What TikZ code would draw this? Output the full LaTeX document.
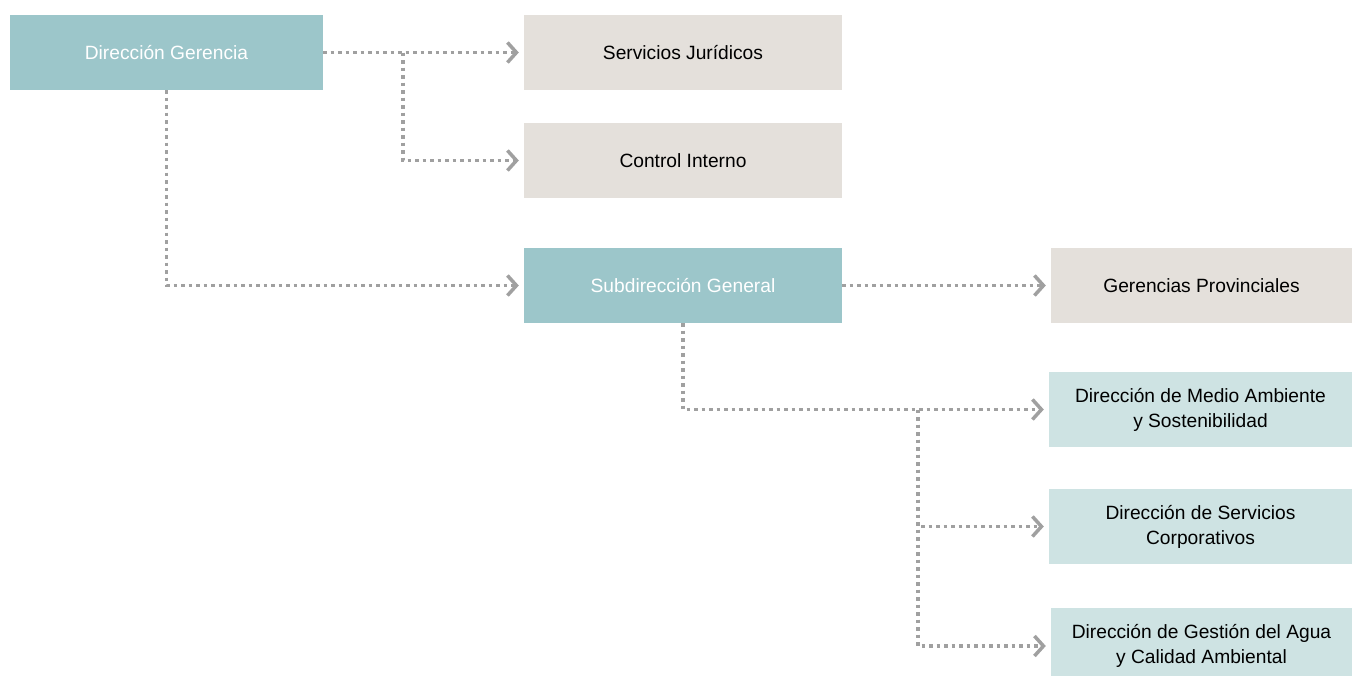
\documentclass[tikz,border=0pt]{standalone}
\usepackage{fontspec}
\setmainfont{Liberation Sans}
\usetikzlibrary{arrows.meta}
\definecolor{teal1}{HTML}{9CC6CA}
\definecolor{greybox}{HTML}{E4E0DB}
\definecolor{lteal}{HTML}{CEE3E3}
\definecolor{conncol}{HTML}{A0A0A0}
\tikzset{
  box/.style={draw=none, inner sep=0pt, align=center, font=\fontsize{19.2}{25}\selectfont},
  tealbox/.style={box, fill=teal1, text=white},
  greyb/.style={box, fill=greybox, text=black},
  ltealbox/.style={box, fill=lteal, text=black},
  conn/.style={draw=conncol, line width=3.5pt, dash pattern=on 3.5pt off 4pt,
    -{Straight Barb[length=9pt,width=20pt,line width=3.5pt]}, shorten >=5pt},
}
\begin{document}
\begin{tikzpicture}[x=1pt,y=-1pt]
\clip (0,0) rectangle (1352,675);
\fill[white] (0,0) rectangle (1352,675);
\node[tealbox, minimum width=313pt, minimum height=75pt] (dg) at (166.5,52.5) {Dirección Gerencia};
\node[greyb, minimum width=318pt, minimum height=75pt] (sj) at (683,52.5) {Servicios Jurídicos};
\node[greyb, minimum width=318pt, minimum height=75pt] (ci) at (683,160.5) {Control Interno};
\node[tealbox, minimum width=318pt, minimum height=75pt] (sg) at (683,285.5) {Subdirección General};
\node[greyb, minimum width=301pt, minimum height=75pt] (gp) at (1201.5,285.5) {Gerencias Provinciales};
\node[ltealbox, minimum width=303pt, minimum height=75pt] (ma) at (1200.5,409.5) {Dirección de Medio Ambiente\\y Sostenibilidad};
\node[ltealbox, minimum width=303pt, minimum height=75pt] (sc) at (1200.5,526.5) {Dirección de Servicios\\Corporativos};
\node[ltealbox, minimum width=301pt, minimum height=76pt] (ga) at (1201.5,646) {Dirección de Gestión del Agua\\y Calidad Ambiental};

\coordinate (b1) at (403,52.5);
\coordinate (b2) at (918,409.5);

\draw[conn] (dg.east) -- (sj.west);
\draw[conn] (b1) |- (ci.west);
\draw[conn] (dg.south) |- (sg.west);
\draw[conn] (sg.east) -- (gp.west);
\draw[conn] (sg.south) |- (ma.west);
\draw[conn] (b2) |- (sc.west);
\draw[conn] (b2) |- (ga.west);
\end{tikzpicture}
\end{document}
